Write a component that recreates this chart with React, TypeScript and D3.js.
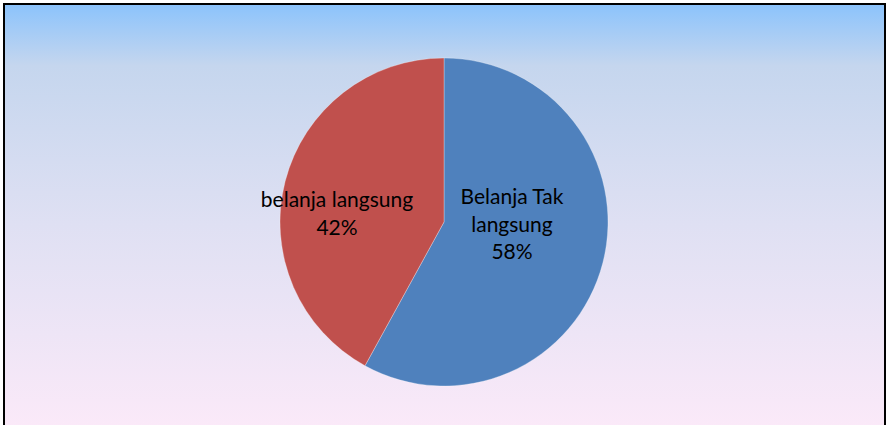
import React from "react";
import * as d3 from "d3";

const categories = ["Belanja Tak langsung", "belanja langsung"];
const values = [58, 42];
const labelLines = [["Belanja Tak", "langsung", "58%"], ["belanja langsung", "42%"]];
const colors = ["#4F81BD", "#C0504D"];

const W = 887;
const H = 425;

export default function App() {
  const cx = 444;
  const cy = 222;
  const r = 164;
  const pie = d3.pie<number>().value((d) => d).sort(null);
  const arcs = pie(values);
  const arcGen = d3.arc<d3.PieArcDatum<number>>().innerRadius(0).outerRadius(r);
  const labelPos = [
    [512, 204],
    [337, 207],
  ];
  return (
    <svg width={W} height={H} style={{ position: "absolute", left: 0, top: 0 }}>
      <defs>
        <linearGradient id="bg" x1="0" y1="0" x2="0" y2="1">
          <stop offset="0%" stopColor="#8BC3FC" />
          <stop offset="14%" stopColor="#C5D6EE" />
          <stop offset="50%" stopColor="#DFE0F3" />
          <stop offset="100%" stopColor="#FDEAF9" />
        </linearGradient>
      </defs>
      <rect x={0} y={0} width={W} height={H} fill="#ffffff" />
      <rect x={4} y={4} width={881} height={440} fill="url(#bg)" stroke="#000" strokeWidth={2} />
      <g transform={`translate(${cx},${cy})`}>
        {arcs.map((a, i) => (
          <path key={categories[i]} d={arcGen(a) || ""} fill={colors[i]} stroke="#ffffff" strokeWidth={0.3} />
        ))}
      </g>
      {labelLines.map((lines, i) => (
        <text
          key={i}
          x={labelPos[i][0]}
          y={labelPos[i][1]}
          textAnchor="middle"
          fontFamily="Lato, 'Open Sans', sans-serif"
          fontSize={21}
          fill="#000"
        >
          {lines.map((l, j) => (
            <tspan key={j} x={labelPos[i][0]} dy={j === 0 ? 0 : 27.5}>
              {l}
            </tspan>
          ))}
        </text>
      ))}
    </svg>
  );
}
